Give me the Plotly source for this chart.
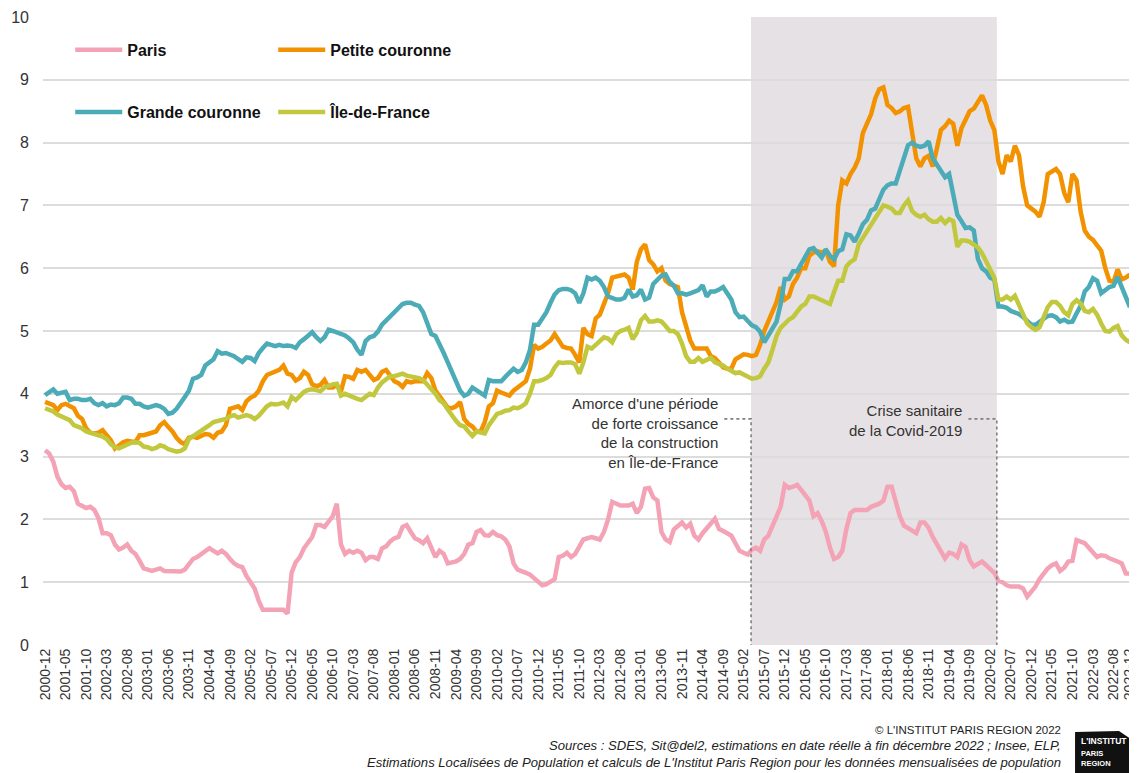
import plotly.graph_objects as go

# ---------------- data ----------------
# monthly categories 2000-12 .. 2022-12
months = ["2000-12"] + [f"{y}-{m:02d}" for y in range(2001, 2023) for m in range(1, 13)]

paris = [
    3.1, 3.05, 2.92, 2.68, 2.56, 2.5, 2.52, 2.45, 2.25, 2.21,
    2.18, 2.2, 2.15, 2.02, 1.78, 1.78, 1.75, 1.6, 1.52, 1.55,
    1.6, 1.5, 1.45, 1.34, 1.22, 1.2, 1.18, 1.2, 1.22, 1.18,
    1.18, 1.17, 1.17, 1.17, 1.2, 1.3, 1.37, 1.4, 1.45, 1.5,
    1.54, 1.5, 1.46, 1.5, 1.45, 1.37, 1.3, 1.26, 1.24, 1.1,
    1.0, 0.9, 0.7, 0.56, 0.56, 0.56, 0.56, 0.56, 0.56, 0.5,
    1.15, 1.32, 1.4, 1.54, 1.64, 1.72, 1.91, 1.91, 1.88, 1.98,
    2.05, 2.25, 1.6, 1.45, 1.5, 1.47, 1.5, 1.47, 1.35, 1.4,
    1.4, 1.37, 1.54, 1.57, 1.65, 1.7, 1.72, 1.88, 1.91, 1.8,
    1.7, 1.67, 1.62, 1.7, 1.55, 1.4, 1.5, 1.45, 1.3, 1.32,
    1.33, 1.37, 1.45, 1.6, 1.62, 1.8, 1.83, 1.75, 1.74, 1.8,
    1.75, 1.73, 1.68, 1.57, 1.3, 1.2, 1.18, 1.15, 1.12, 1.07,
    1.02, 0.95, 0.97, 1.02, 1.05, 1.4, 1.42, 1.47, 1.4, 1.45,
    1.55, 1.68, 1.7, 1.72, 1.7, 1.68, 1.8, 2.0, 2.28, 2.25,
    2.22, 2.22, 2.22, 2.25, 2.1, 2.2, 2.49, 2.5, 2.35, 2.3,
    1.8, 1.68, 1.64, 1.84, 1.9, 1.95, 1.87, 1.93, 1.74, 1.68,
    1.78, 1.85, 1.92, 2.01, 1.85, 1.82, 1.78, 1.74, 1.6, 1.5,
    1.47, 1.44, 1.52, 1.55, 1.5, 1.68, 1.74, 1.9, 2.05, 2.2,
    2.55, 2.5, 2.52, 2.55, 2.47, 2.38, 2.3, 2.05, 2.1, 1.97,
    1.8, 1.55, 1.37, 1.4, 1.5, 1.85, 2.1, 2.15, 2.15, 2.15,
    2.15, 2.2, 2.23, 2.25, 2.3, 2.52, 2.52, 2.3, 2.05, 1.9,
    1.85, 1.82, 1.78, 1.95, 1.95, 1.87, 1.72, 1.6, 1.47, 1.38,
    1.47, 1.45, 1.4, 1.6, 1.56, 1.35, 1.25, 1.3, 1.33, 1.27,
    1.2, 1.15, 1.02, 1.0, 0.95, 0.93, 0.93, 0.93, 0.9, 0.77,
    0.85, 0.93, 1.05, 1.15, 1.22, 1.27, 1.3, 1.18, 1.23, 1.33,
    1.34, 1.67, 1.65, 1.62, 1.55, 1.46, 1.4, 1.43, 1.42, 1.38,
    1.36, 1.33, 1.3, 1.14, 1.14,
]

petite_couronne = [
    3.87, 3.85, 3.82, 3.74, 3.82, 3.84, 3.8, 3.77, 3.65, 3.6,
    3.45, 3.38, 3.37, 3.38, 3.42, 3.35, 3.26, 3.13, 3.18, 3.23,
    3.25, 3.24, 3.23, 3.34, 3.34, 3.36, 3.38, 3.4, 3.5, 3.55,
    3.47, 3.4, 3.3, 3.23, 3.2, 3.3, 3.32, 3.3, 3.33, 3.36,
    3.35, 3.3, 3.38, 3.4, 3.5, 3.76, 3.78, 3.8, 3.74, 3.88,
    3.94, 3.97, 4.05, 4.2, 4.3, 4.33, 4.35, 4.38, 4.45, 4.32,
    4.3, 4.21, 4.25, 4.35, 4.3, 4.15, 4.12, 4.14, 4.22, 4.1,
    4.1, 4.14, 4.04, 4.28, 4.27, 4.24, 4.38, 4.35, 4.38, 4.3,
    4.22, 4.25, 4.35, 4.38, 4.3, 4.2, 4.17, 4.11, 4.2, 4.18,
    4.2, 4.2, 4.2, 4.33, 4.25, 4.05, 3.95, 3.85, 3.78, 3.77,
    3.8, 3.87, 3.6, 3.52, 3.48, 3.4, 3.4, 3.55, 3.8, 3.85,
    4.05, 4.02, 4.0, 3.97, 4.05, 4.1, 4.13, 4.2, 4.4, 4.78,
    4.72, 4.75, 4.8, 4.85, 4.95, 4.85, 4.75, 4.73, 4.72, 4.62,
    4.5, 5.05, 4.95, 4.92, 5.2, 5.26, 5.45, 5.6, 5.85, 5.87,
    5.88, 5.9, 5.85, 5.66, 6.1, 6.3, 6.38, 6.13, 6.06, 5.95,
    6.0, 5.8, 5.75, 5.73, 5.7, 5.3, 5.05, 4.85, 4.72, 4.72,
    4.72, 4.72, 4.6, 4.57, 4.5, 4.42, 4.4, 4.4, 4.55, 4.6,
    4.63, 4.62, 4.6, 4.62, 4.78, 5.0, 5.15, 5.3, 5.46, 5.7,
    5.5, 5.55, 5.75, 5.85, 6.0, 6.0, 6.2, 6.25, 6.27, 6.25,
    6.28, 6.1, 6.03, 7.0, 7.4, 7.35, 7.5, 7.6, 7.75, 8.15,
    8.3, 8.45, 8.7, 8.85, 8.88, 8.6, 8.55, 8.47, 8.5, 8.55,
    8.57, 8.1, 7.75, 7.62, 7.75, 7.79, 7.62, 7.9, 8.2, 8.26,
    8.35, 8.3, 7.95, 8.23, 8.35, 8.5, 8.54, 8.65, 8.75, 8.6,
    8.35, 8.2, 7.7, 7.5, 7.8, 7.7, 7.95, 7.8, 7.3, 7.0,
    6.95, 6.9, 6.82, 7.05, 7.5, 7.55, 7.58, 7.5, 7.2, 7.05,
    7.5, 7.4, 6.9, 6.6, 6.5, 6.45, 6.35, 6.28, 6.0, 5.8,
    5.78, 5.98, 5.82, 5.85, 5.9,
]

grande_couronne = [
    3.98, 4.02, 4.07, 4.0, 4.02, 4.03, 3.9, 3.92, 3.92, 3.9,
    3.9, 3.92, 3.85, 3.82, 3.85, 3.8, 3.83, 3.82, 3.85, 3.94,
    3.94, 3.92, 3.84, 3.84, 3.8, 3.78, 3.8, 3.82, 3.8, 3.76,
    3.68, 3.7, 3.76, 3.87, 3.95, 4.05, 4.24, 4.26, 4.3, 4.45,
    4.5, 4.55, 4.68, 4.64, 4.65, 4.62, 4.6, 4.55, 4.51, 4.58,
    4.57, 4.52, 4.65, 4.73, 4.8, 4.78, 4.76, 4.78, 4.76, 4.77,
    4.76, 4.73, 4.82, 4.87, 4.92, 4.98, 4.9, 4.84, 4.9, 5.02,
    5.0, 4.98, 4.95, 4.93, 4.88, 4.82, 4.7, 4.62, 4.84, 4.9,
    4.92, 4.99, 5.1, 5.17, 5.22, 5.3, 5.37, 5.43, 5.45, 5.45,
    5.42, 5.4, 5.3, 5.1, 4.95, 4.92, 4.8, 4.65, 4.5, 4.35,
    4.2, 4.05, 3.97, 4.0, 4.1, 4.05, 4.0, 3.97, 4.22, 4.2,
    4.2, 4.2, 4.27, 4.33, 4.4, 4.35, 4.38, 4.5, 4.7, 5.1,
    5.1, 5.2, 5.3, 5.45, 5.58, 5.65, 5.67, 5.67, 5.65, 5.6,
    5.45, 5.6, 5.85, 5.82, 5.85, 5.8, 5.7, 5.55, 5.52, 5.5,
    5.5, 5.53, 5.66, 5.55, 5.57, 5.66, 5.5, 5.53, 5.75, 5.82,
    5.88, 5.9, 5.78, 5.72, 5.6, 5.6, 5.58, 5.6, 5.62, 5.65,
    5.73, 5.55, 5.63, 5.63, 5.66, 5.7, 5.6, 5.5, 5.3, 5.22,
    5.23, 5.15, 5.09, 5.06, 4.99, 4.82, 4.92, 5.02, 5.15, 5.43,
    5.83, 5.83, 5.95, 5.95, 6.07, 6.2, 6.3, 6.32, 6.25, 6.17,
    6.3, 6.2, 6.14, 6.27, 6.3, 6.54, 6.52, 6.42, 6.55, 6.7,
    6.77, 6.92, 6.95, 7.12, 7.25, 7.32, 7.35, 7.35, 7.55, 7.8,
    7.96, 8.0, 7.95, 7.93, 7.95, 8.02, 7.75, 7.65, 7.55, 7.45,
    7.5, 7.2, 6.85, 6.75, 6.64, 6.65, 6.6, 6.15, 6.0, 5.95,
    5.85, 5.82, 5.39, 5.39, 5.37, 5.32, 5.3, 5.27, 5.22, 5.15,
    5.1, 5.1, 5.14, 5.18, 5.24, 5.25, 5.22, 5.15, 5.18, 5.14,
    5.15, 5.28, 5.4, 5.63, 5.7, 5.84, 5.8, 5.6, 5.66, 5.7,
    5.72, 5.86, 5.7, 5.55, 5.38,
]

ile_de_france = [
    3.77, 3.75, 3.72, 3.67, 3.64, 3.62, 3.58, 3.5, 3.48, 3.45,
    3.4, 3.38, 3.36, 3.34, 3.32, 3.28, 3.2, 3.15, 3.13, 3.16,
    3.2, 3.22, 3.23, 3.22, 3.16, 3.15, 3.12, 3.14, 3.18, 3.16,
    3.12, 3.1, 3.08, 3.09, 3.13, 3.28, 3.32, 3.36, 3.42, 3.45,
    3.5, 3.55, 3.57, 3.58, 3.6, 3.64, 3.66, 3.62, 3.64, 3.66,
    3.64, 3.6, 3.65, 3.74, 3.8, 3.84, 3.83, 3.84, 3.86, 3.8,
    3.95, 3.9, 3.97, 4.03, 4.06, 4.07, 4.06, 4.04, 4.1, 4.13,
    4.15, 4.16, 3.97, 4.0, 3.97, 3.95, 3.92, 3.9, 3.95, 4.0,
    3.98, 4.1, 4.18, 4.22, 4.28, 4.28, 4.3, 4.32, 4.29, 4.28,
    4.27, 4.25, 4.22, 4.15, 4.08, 4.0, 3.9, 3.85, 3.75, 3.65,
    3.57, 3.5, 3.48, 3.4, 3.33, 3.4, 3.38, 3.37, 3.5, 3.6,
    3.68, 3.7, 3.73, 3.74, 3.78, 3.77, 3.8, 3.85, 4.0, 4.2,
    4.2, 4.22, 4.25, 4.3, 4.42, 4.5, 4.49, 4.5, 4.5, 4.47,
    4.32, 4.5, 4.75, 4.72, 4.78, 4.85, 4.9, 4.88, 4.82, 4.95,
    5.0, 5.02, 5.05, 4.87, 4.97, 5.17, 5.24, 5.15, 5.15, 5.17,
    5.15, 5.08, 5.0, 5.0, 4.95, 4.8, 4.6, 4.51, 4.51, 4.57,
    4.51, 4.54, 4.57, 4.5, 4.48, 4.45, 4.4, 4.37, 4.33, 4.34,
    4.3, 4.26, 4.24, 4.25, 4.28, 4.4, 4.5, 4.7, 4.92, 5.05,
    5.12, 5.18, 5.22, 5.3, 5.39, 5.43, 5.55, 5.55, 5.52, 5.49,
    5.46, 5.43, 5.62, 5.8, 5.8, 6.03, 6.1, 6.14, 6.38, 6.48,
    6.6, 6.7, 6.78, 6.9, 7.0, 6.98, 6.95, 6.88, 6.88, 7.0,
    7.08, 6.91, 6.85, 6.82, 6.85, 6.78, 6.74, 6.74, 6.8, 6.72,
    6.78, 6.75, 6.34, 6.44, 6.44, 6.42, 6.38, 6.33, 6.24, 6.12,
    6.0, 5.85, 5.5, 5.5, 5.55, 5.5, 5.56, 5.4, 5.25, 5.12,
    5.06, 5.02, 5.06, 5.2, 5.38, 5.46, 5.46, 5.4, 5.3, 5.25,
    5.43, 5.49, 5.44, 5.32, 5.3, 5.35, 5.26, 5.12, 5.0, 4.99,
    5.05, 5.08, 4.93, 4.86, 4.82,
]

tick_labels = months[::5] + [months[-1]]

series = [
    ("Paris", paris, "#F4A3B6", "legend"),
    ("Petite couronne", petite_couronne, "#F39200", "legend"),
    ("Grande couronne", grande_couronne, "#4BABB7", "legend2"),
    ("Île-de-France", ile_de_france, "#C2C83E", "legend2"),
]

# periods highlighted
shade_start, shade_end = "2015-04", "2020-03"

# ---------------- figure ----------------
NARROW = "Liberation Sans Narrow, Arial Narrow, Liberation Sans, Arial, sans-serif"
REG = "Liberation Sans, Arial, sans-serif"

fig = go.Figure()
for name, vals, col, leg in series:
    fig.add_trace(go.Scatter(
        x=months, y=vals, name=name, mode="lines",
        line=dict(color=col, width=4.5), legend=leg,
        hoverinfo="x+y+name",
    ))

i0 = months.index(shade_start) - 0.2
i1 = months.index(shade_end) + 0.6

fig.add_shape(type="rect", xref="x", yref="paper", x0=i0, x1=i1, y0=0, y1=1,
              fillcolor="#E6E1E4", line=dict(width=0), layer="below")

# dotted leader lines
dot = dict(color="#808080", width=1.6, dash="dot")
fig.add_shape(type="path", xref="x", yref="y",
              path=f"M {months.index('2014-09') + 0.3},3.6 L {i0},3.6 L {i0},0",
              line=dot)
fig.add_shape(type="path", xref="x", yref="y",
              path=f"M {months.index('2019-09') - 0.3},3.6 L {i1},3.6 L {i1},0",
              line=dot)

fig.add_annotation(xref="x", yref="y", x=months.index("2014-08") + 0.2, y=3.37,
                   text="Amorce d'une période<br>de forte croissance<br>de la construction<br>en Île-de-France",
                   showarrow=False, xanchor="right", yanchor="middle", align="right",
                   font=dict(family=NARROW, size=15, color="#333333"))
fig.add_annotation(xref="x", yref="y", x=months.index("2019-07") + 0.5, y=3.57,
                   text="Crise sanitaire<br>de la Covid-2019",
                   showarrow=False, xanchor="right", yanchor="middle", align="right",
                   font=dict(family=NARROW, size=15, color="#333333"))

# footer texts
fig.add_annotation(xref="paper", yref="paper", x=0.9366, y=-0.1355,
                   text="© L'INSTITUT PARIS REGION 2022", showarrow=False,
                   xanchor="right", yanchor="middle",
                   font=dict(family=NARROW, size=11.5, color="#222222"))
fig.add_annotation(xref="paper", yref="paper", x=0.9366, y=-0.1600,
                   text="<i>Sources : SDES, Sit@del2, estimations en date réelle à fin décembre 2022 ; Insee, ELP,</i>",
                   showarrow=False, xanchor="right", yanchor="middle",
                   font=dict(family=NARROW, size=13.1, color="#222222"))
fig.add_annotation(xref="paper", yref="paper", x=0.9366, y=-0.1870,
                   text="<i>Estimations Localisées de Population et calculs de L'Institut Paris Region pour les données mensualisées de population</i>",
                   showarrow=False, xanchor="right", yanchor="middle",
                   font=dict(family=NARROW, size=13.1, color="#222222"))

# logo
fig.add_shape(type="path", xref="paper", yref="paper",
              path="M 0.9477,-0.1385 L 0.9880,-0.1370 L 1.0046,-0.1560 L 1.0046,-0.21 L 0.9477,-0.21 Z",
              fillcolor="#111111", line=dict(width=0))
fig.add_annotation(xref="paper", yref="paper", x=0.9515, y=-0.1530,
                   text="<b>L'INSTITUT</b>", showarrow=False, xanchor="left", yanchor="middle",
                   font=dict(family=REG, size=8.5, color="white"))
fig.add_annotation(xref="paper", yref="paper", x=0.9515, y=-0.1620,
                   text="<b>PARIS<br>REGION</b>", showarrow=False, xanchor="left", yanchor="top",
                   align="left",
                   font=dict(family=REG, size=7.5, color="white"))

# the page body has an 8px margin: size the figure so it ends at the window edge
fig.update_layout(
    width=1129, height=765,
    margin=dict(l=35, r=5, t=9, b=128, autoexpand=False),
    paper_bgcolor="white", plot_bgcolor="white",
    showlegend=True,
    legend=dict(orientation="h", x=0.025, y=0.9475, xanchor="left", yanchor="middle",
                entrywidth=141, entrywidthmode="pixels", itemwidth=47,
                bgcolor="rgba(0,0,0,0)",
                font=dict(family=NARROW, size=16, color="#111111", weight="bold")),
    legend2=dict(orientation="h", x=0.025, y=0.8487, xanchor="left", yanchor="middle",
                 entrywidth=141, entrywidthmode="pixels", itemwidth=47,
                 bgcolor="rgba(0,0,0,0)",
                 font=dict(family=NARROW, size=16, color="#111111", weight="bold")),
    xaxis=dict(type="category", tickmode="array", tickvals=tick_labels, ticktext=tick_labels,
               tickangle=-90, showgrid=False, zeroline=False, showline=False, ticks="",
               automargin=False,
               tickfont=dict(family=REG, size=14, color="#333333"),
               range=[-0.5, len(months) - 0.5]),
    yaxis=dict(range=[0, 10], dtick=1, showgrid=True, gridcolor="#DCDCDC", gridwidth=1.6,
               zeroline=False, showline=False, ticks="", automargin=False,
               tickfont=dict(family=REG, size=16, color="#333333"),
               ticklabelstandoff=13),
)

fig.write_html("out.html")
